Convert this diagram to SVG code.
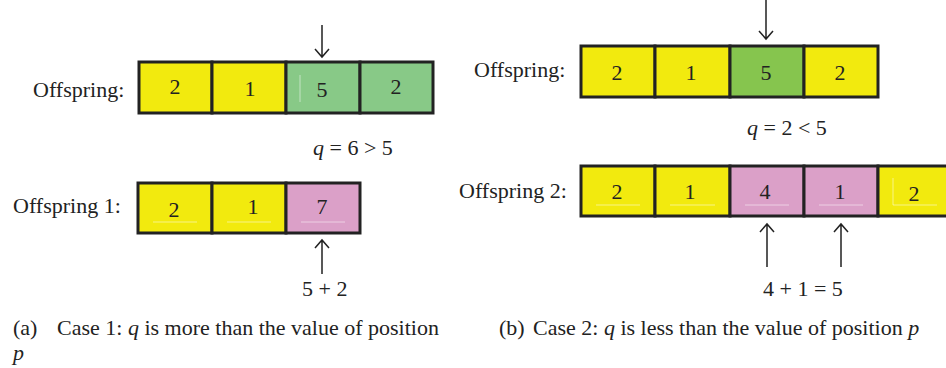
<svg xmlns="http://www.w3.org/2000/svg" width="946" height="368" viewBox="0 0 946 368">
<style>
text{font-family:"Liberation Serif","Times New Roman",serif;fill:#222;font-size:22px}
.n{text-anchor:middle}
.y{fill:#F2EA0E;stroke:#222;stroke-width:3}
.g{fill:#88C987;stroke:#222;stroke-width:3}
.gb{fill:#86C54E;stroke:#222;stroke-width:3}
.p{fill:#DBA0C8;stroke:#222;stroke-width:3}
.a{stroke:#222;stroke-width:1.5;fill:none}
.f{stroke:#fff;stroke-width:1;opacity:0.5}
</style>
<rect width="946" height="368" fill="#fff"/>

<g id="caseA">
<g id="a-offspring">
<text x="33" y="97">Offspring:</text>
<rect class="y" x="139" y="62" width="73" height="51"/>
<rect class="y" x="212" y="62" width="74" height="51"/>
<rect class="g" x="286" y="62" width="74" height="51"/>
<rect class="g" x="360" y="62" width="73" height="51"/>
<line class="f" x1="300" y1="75" x2="300" y2="102"/>
<text class="n" x="175" y="94">2</text>
<text class="n" x="250" y="96">1</text>
<text class="n" x="322" y="97">5</text>
<text class="n" x="396" y="94">2</text>
</g>
<text id="a-q" x="313" y="155"><tspan font-style="italic">q</tspan> = 6 &gt; 5</text>
<g id="a-offspring1">
<text x="13" y="213">Offspring 1:</text>
<rect class="y" x="138" y="183" width="74" height="50"/>
<rect class="y" x="212" y="183" width="74" height="50"/>
<rect class="p" x="286" y="183" width="74" height="50"/>
<line class="f" x1="153" y1="222" x2="197" y2="222"/>
<line class="f" x1="227" y1="222" x2="271" y2="222"/>
<line class="f" x1="301" y1="222" x2="345" y2="222"/>
<text class="n" x="174" y="217">2</text>
<text class="n" x="253" y="214">1</text>
<text class="n" x="322" y="214">7</text>
</g>
<text id="a-sum" x="302" y="296">5 + 2</text>
<text id="a-caption" x="13" y="335">(a)<tspan x="57">Case 1: <tspan font-style="italic">q</tspan> is more than the value of position</tspan></text>
<text x="13" y="360" font-style="italic">p</text>
</g>

<g id="caseB">
<g id="b-offspring">
<text x="474" y="77">Offspring:</text>
<rect class="y" x="581" y="46" width="74" height="51"/>
<rect class="y" x="655" y="46" width="75" height="51"/>
<rect class="gb" x="730" y="46" width="74" height="51"/>
<rect class="y" x="804" y="46" width="74" height="51"/>
<text class="n" x="617" y="80">2</text>
<text class="n" x="691" y="80">1</text>
<text class="n" x="766" y="80">5</text>
<text class="n" x="840" y="80">2</text>
</g>
<text id="b-q" x="747" y="135"><tspan font-style="italic">q</tspan> = 2 &lt; 5</text>
<g id="b-offspring2">
<text x="459" y="198">Offspring 2:</text>
<rect class="y" x="581" y="166" width="74" height="50"/>
<rect class="y" x="655" y="166" width="75" height="50"/>
<rect class="p" x="730" y="166" width="74" height="50"/>
<rect class="p" x="804" y="166" width="74" height="50"/>
<rect class="y" x="878" y="166" width="80" height="50"/>
<line class="f" x1="596" y1="205" x2="640" y2="205"/>
<line class="f" x1="670" y1="205" x2="715" y2="205"/>
<line class="f" x1="745" y1="205" x2="789" y2="205"/>
<line class="f" x1="819" y1="205" x2="863" y2="205"/>
<line class="f" x1="893" y1="205" x2="937" y2="205"/>
<line class="f" x1="893" y1="178" x2="893" y2="205"/>
<text class="n" x="617" y="199">2</text>
<text class="n" x="690" y="199">1</text>
<text class="n" x="765" y="199">4</text>
<text class="n" x="840" y="199">1</text>
<text class="n" x="914" y="201">2</text>
</g>
<text id="b-sum" x="763" y="296">4 + 1 = 5</text>
<text id="b-caption" x="499" y="335">(b)<tspan x="533">Case 2: <tspan font-style="italic">q</tspan> is less than the value of position <tspan font-style="italic">p</tspan></tspan></text>
</g>

<g id="connectors">
<path class="a" d="M322 25V57M315 49L322 57L329 49"/>
<path class="a" d="M322 274V240M315 248L322 240L329 248"/>
<path class="a" d="M766 0V39M759 31L766 39L773 31"/>
<path class="a" d="M767 267V224M760 232L767 224L774 232"/>
<path class="a" d="M841 267V224M834 232L841 224L848 232"/>
</g>
</svg>
